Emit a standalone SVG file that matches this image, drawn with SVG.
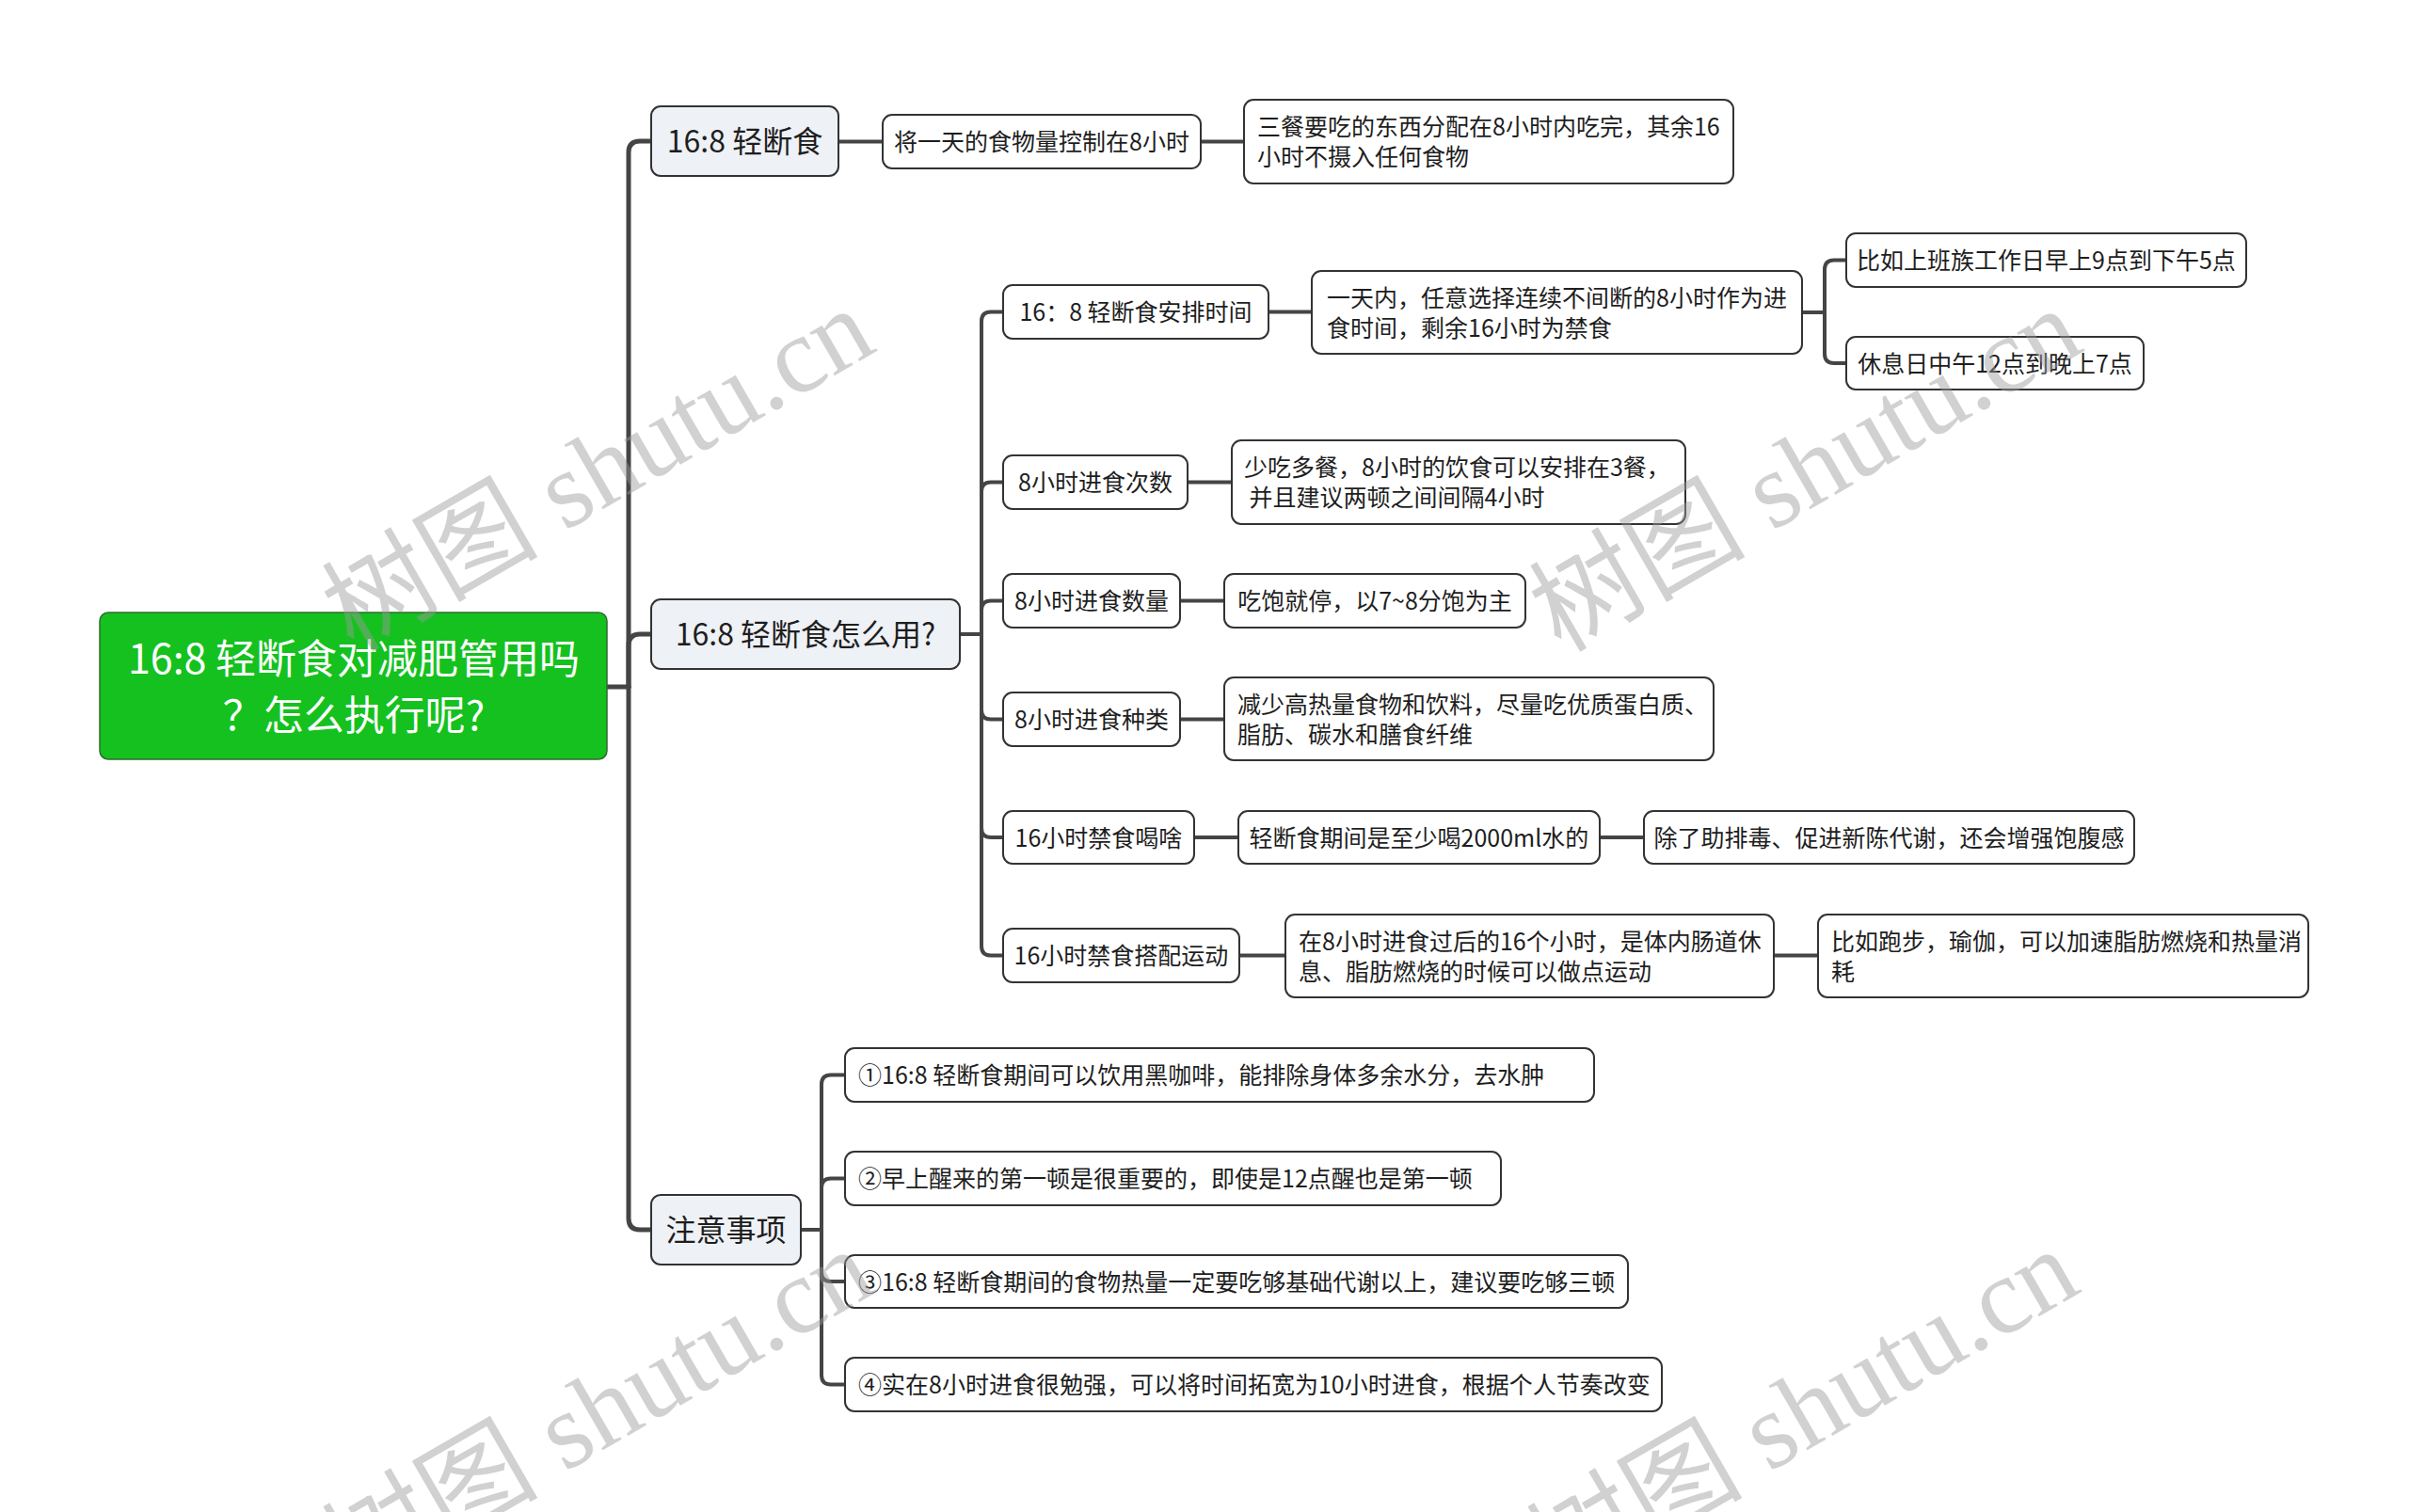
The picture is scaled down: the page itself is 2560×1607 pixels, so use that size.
<svg xmlns="http://www.w3.org/2000/svg" width="2560" height="1607" viewBox="0 0 2560 1607">
<style>
.t{font-family:"Noto Sans CJK SC","Microsoft YaHei",sans-serif;fill:#1e1e1e}
.s{font-size:25px}
.m{text-anchor:middle}
.l1 rect{fill:#eef1f5;stroke:#333;stroke-width:2}
.l2 rect{fill:#fff;stroke:#333;stroke-width:2}
.l1 text{font-size:32px}
.c path{fill:none;stroke:#454545;stroke-width:4;stroke-linecap:round}
.c .tr{stroke-width:5}
.wm{font-family:"Liberation Serif","Noto Sans CJK SC",serif;font-size:115px;fill:#9a9a9a;opacity:0.45;text-anchor:middle}
</style>
<rect width="2560" height="1607" fill="#fff"/>
<g class="c" id="connectors">
<path class="tr" d="M645,730 H668"/>
<path class="tr" d="M668,730 V162 Q668,150 680,150 H692"/>
<path class="tr" d="M668,730 V686 Q668,674 680,674 H692"/>
<path class="tr" d="M668,730 V1295 Q668,1307 680,1307 H692"/>
<path d="M891,150.5 H938"/>
<path d="M1276,150.5 H1322"/>
<path d="M1020,674 H1043"/>
<path d="M1043,674 V341.5 Q1043,331.5 1053,331.5 H1066"/>
<path d="M1043,674 V522.5 Q1043,512.5 1053,512.5 H1066"/>
<path d="M1043,674 V648.5 Q1043,638.5 1053,638.5 H1066"/>
<path d="M1043,674 V754.5 Q1043,764.5 1053,764.5 H1066"/>
<path d="M1043,674 V880 Q1043,890 1053,890 H1066"/>
<path d="M1043,674 V1005.5 Q1043,1015.5 1053,1015.5 H1066"/>
<path d="M1348,331.5 H1394"/>
<path d="M1915,332 H1939"/>
<path d="M1939,332 V286.5 Q1939,276.5 1949,276.5 H1962"/>
<path d="M1939,332 V376 Q1939,386 1949,386 H1962"/>
<path d="M1262,512.5 H1309"/>
<path d="M1254,638.5 H1301"/>
<path d="M1254,764.5 H1301"/>
<path d="M1269,890 H1316"/>
<path d="M1700,890 H1747"/>
<path d="M1317,1015.5 H1366"/>
<path d="M1885,1015.5 H1932"/>
<path d="M851,1307 H873"/>
<path d="M873,1307 V1152.5 Q873,1142.5 883,1142.5 H898"/>
<path d="M873,1307 V1262.5 Q873,1252.5 883,1252.5 H898"/>
<path d="M873,1307 V1352 Q873,1362 883,1362 H898"/>
<path d="M873,1307 V1461.5 Q873,1471.5 883,1471.5 H898"/>
</g>
<g id="root">
<rect x="106" y="651" width="539" height="156" rx="9" fill="#15c11f" stroke="#2f6b2f" stroke-width="1.5"/>
<text class="t m" x="376" y="716" font-size="43" style="fill:#fff">16:8 轻断食对减肥管用吗</text>
<text class="t m" x="376" y="776" font-size="43" style="fill:#fff">？怎么执行呢?</text>
</g>
<g id="n1" class="l1"><rect x="692" y="113" width="199" height="74" rx="10"/><text class="t m" x="791.5" y="162">16:8 轻断食</text></g>
<g id="n2" class="l1"><rect x="692" y="637" width="328" height="74" rx="10"/><text class="t m" x="856" y="686">16:8 轻断食怎么用?</text></g>
<g id="n3" class="l1"><rect x="692" y="1270" width="159" height="74" rx="10"/><text class="t m" x="771.5" y="1319">注意事项</text></g>
<g id="a1" class="l2"><rect x="938" y="122" width="338" height="57" rx="10"/><text class="t s m" x="1107" y="160">将一天的食物量控制在8小时</text></g>
<g id="a2" class="l2"><rect x="1322" y="106" width="520" height="89" rx="10"/><text class="t s" x="1336" y="144">三餐要吃的东西分配在8小时内吃完，其余16</text><text class="t s" x="1336" y="176">小时不摄入任何食物</text></g>
<g id="b1" class="l2"><rect x="1066" y="303" width="282" height="57" rx="10"/><text class="t s m" x="1207" y="341">16：8 轻断食安排时间</text></g>
<g id="b2" class="l2"><rect x="1394" y="288" width="521" height="88" rx="10"/><text class="t s" x="1410" y="325.5">一天内，任意选择连续不间断的8小时作为进</text><text class="t s" x="1410" y="357.5">食时间，剩余16小时为禁食</text></g>
<g id="c1" class="l2"><rect x="1962" y="248" width="425" height="57" rx="10"/><text class="t s m" x="2174.5" y="286">比如上班族工作日早上9点到下午5点</text></g>
<g id="c2" class="l2"><rect x="1962" y="358" width="316" height="56" rx="10"/><text class="t s m" x="2120" y="395.5">休息日中午12点到晚上7点</text></g>
<g id="b3" class="l2"><rect x="1066" y="484" width="196" height="57" rx="10"/><text class="t s m" x="1164" y="522">8小时进食次数</text></g>
<g id="b3a" class="l2"><rect x="1309" y="468" width="482" height="89" rx="10"/><text class="t s" x="1322" y="506">少吃多餐，8小时的饮食可以安排在3餐，</text><text class="t s" x="1322" y="538" xml:space="preserve"> 并且建议两顿之间间隔4小时</text></g>
<g id="b4" class="l2"><rect x="1066" y="610" width="188" height="57" rx="10"/><text class="t s m" x="1160" y="648">8小时进食数量</text></g>
<g id="b4a" class="l2"><rect x="1301" y="610" width="320" height="57" rx="10"/><text class="t s m" x="1461" y="648">吃饱就停，以7~8分饱为主</text></g>
<g id="b5" class="l2"><rect x="1066" y="736" width="188" height="57" rx="10"/><text class="t s m" x="1160" y="774">8小时进食种类</text></g>
<g id="b5a" class="l2"><rect x="1301" y="720" width="520" height="88" rx="10"/><text class="t s" x="1315" y="757.5">减少高热量食物和饮料，尽量吃优质蛋白质、</text><text class="t s" x="1315" y="789.5">脂肪、碳水和膳食纤维</text></g>
<g id="b6" class="l2"><rect x="1066" y="862" width="203" height="56" rx="10"/><text class="t s m" x="1167.5" y="899.5">16小时禁食喝啥</text></g>
<g id="b6a" class="l2"><rect x="1316" y="862" width="384" height="56" rx="10"/><text class="t s m" x="1508" y="899.5">轻断食期间是至少喝2000ml水的</text></g>
<g id="b6b" class="l2"><rect x="1747" y="862" width="521" height="56" rx="10"/><text class="t s m" x="2007.5" y="899.5">除了助排毒、促进新陈代谢，还会增强饱腹感</text></g>
<g id="b7" class="l2"><rect x="1066" y="987" width="251" height="57" rx="10"/><text class="t s m" x="1191.5" y="1025">16小时禁食搭配运动</text></g>
<g id="b7a" class="l2"><rect x="1366" y="972" width="519" height="88" rx="10"/><text class="t s" x="1380" y="1009.5">在8小时进食过后的16个小时，是体内肠道休</text><text class="t s" x="1380" y="1041.5">息、脂肪燃烧的时候可以做点运动</text></g>
<g id="b7b" class="l2"><rect x="1932" y="972" width="521" height="88" rx="10"/><text class="t s" x="1946" y="1009.5">比如跑步，瑜伽，可以加速脂肪燃烧和热量消</text><text class="t s" x="1946" y="1041.5">耗</text></g>
<g id="d1" class="l2"><rect x="898" y="1114" width="796" height="57" rx="10"/><text class="t s" x="912" y="1152">①16:8 轻断食期间可以饮用黑咖啡，能排除身体多余水分，去水肿</text></g>
<g id="d2" class="l2"><rect x="898" y="1224" width="697" height="57" rx="10"/><text class="t s" x="912" y="1262">②早上醒来的第一顿是很重要的，即使是12点醒也是第一顿</text></g>
<g id="d3" class="l2"><rect x="898" y="1334" width="832" height="56" rx="10"/><text class="t s" x="912" y="1371.5">③16:8 轻断食期间的食物热量一定要吃够基础代谢以上，建议要吃够三顿</text></g>
<g id="d4" class="l2"><rect x="898" y="1443" width="868" height="57" rx="10"/><text class="t s" x="912" y="1481">④实在8小时进食很勉强，可以将时间拓宽为10小时进食，根据个人节奏改变</text></g>
<g id="watermarks">
<text class="wm" transform="translate(655,533) rotate(-30)">树图 shutu.cn</text>
<text class="wm" transform="translate(1938,533) rotate(-30)">树图 shutu.cn</text>
<text class="wm" transform="translate(655,1533) rotate(-30)">树图 shutu.cn</text>
<text class="wm" transform="translate(1935,1533) rotate(-30)">树图 shutu.cn</text>
</g>
</svg>
